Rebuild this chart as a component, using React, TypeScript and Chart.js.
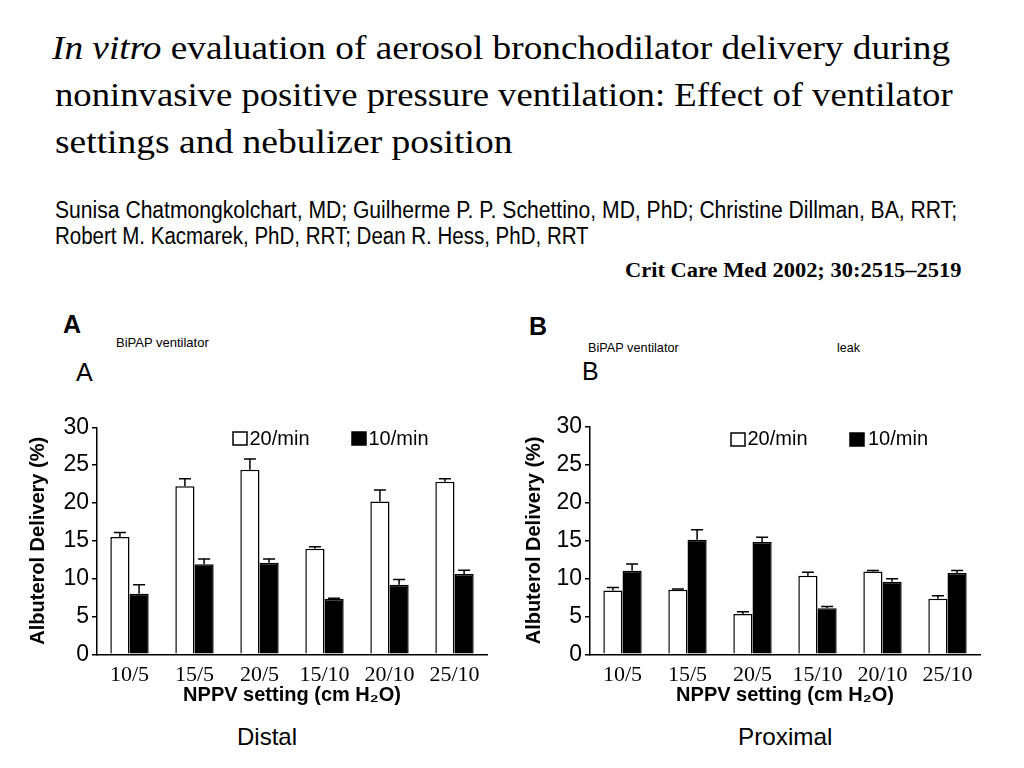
import React, { useEffect, useLayoutEffect, useRef } from "react";
import { Chart, registerables } from "chart.js";

Chart.register(...registerables);
Chart.defaults.font.family = "'Liberation Sans', Arial, sans-serif";

// ---- data ----
const categories = ["10/5", "15/5", "20/5", "15/10", "20/10", "25/10"];
const seriesLabels = ["20/min", "10/min"];
const yTicks = [0, 5, 10, 15, 20, 25, 30];

// Panel A (Distal)
const distal20 = [15.5, 22.2, 24.4, 13.95, 20.2, 22.8];
const distal20Err = [0.6, 1.0, 1.4, 0.25, 1.5, 0.4];
const distal10 = [8.0, 11.9, 12.1, 7.3, 9.2, 10.6];
const distal10Err = [1.2, 0.7, 0.5, 0.1, 0.7, 0.5];

// Panel B (Proximal)
const proximal20 = [8.4, 8.5, 5.3, 10.35, 10.9, 7.3];
const proximal20Err = [0.4, 0.1, 0.3, 0.45, 0.15, 0.4];
const proximal10 = [11.0, 15.1, 14.8, 6.05, 9.55, 10.7];
const proximal10Err = [0.9, 1.3, 0.6, 0.25, 0.4, 0.35];

const SERIF = "'Liberation Serif', 'Times New Roman', serif";
const SANS = "'Liberation Sans', Arial, sans-serif";

// ---- plugins ----
const errorBarPlugin = {
  id: "errorBars",
  afterDatasetsDraw(chart: any) {
    const { ctx } = chart;
    const yScale = chart.scales.y;
    chart.data.datasets.forEach((ds: any, di: number) => {
      const meta = chart.getDatasetMeta(di);
      if (!ds.errors) return;
      meta.data.forEach((bar: any, i: number) => {
        const v = ds.data[i];
        const e = ds.errors[i];
        const yTop = yScale.getPixelForValue(v + e);
        const yBar = bar.y;
        ctx.save();
        ctx.strokeStyle = "#000";
        ctx.lineWidth = 1.5;
        ctx.beginPath();
        ctx.moveTo(bar.x, yBar);
        ctx.lineTo(bar.x, yTop);
        ctx.moveTo(bar.x - 6, yTop);
        ctx.lineTo(bar.x + 6, yTop);
        ctx.stroke();
        ctx.restore();
      });
    });
  },
};

const boxLegendPlugin = {
  id: "boxLegend",
  afterDraw(chart: any, _args: any, opts: any) {
    const { ctx } = chart;
    ctx.save();
    ctx.font = `20px ${SANS}`;
    ctx.textBaseline = "alphabetic";
    ctx.textAlign = "left";
    chart.data.datasets.forEach((ds: any, i: number) => {
      const it = opts.items[i];
      ctx.fillStyle = ds.backgroundColor;
      ctx.fillRect(it.x, opts.y, opts.w, opts.h);
      ctx.strokeStyle = "#000";
      ctx.lineWidth = 1.5;
      ctx.strokeRect(it.x, opts.y, opts.w, opts.h);
      ctx.fillStyle = "#000";
      ctx.fillText(ds.label, it.textX, opts.baseline);
    });
    ctx.restore();
  },
};

type Area = { left: number; top: number; right: number; bottom: number };

function BarPanel(props: {
  left: number;
  top: number;
  width: number;
  height: number;
  area: Area;
  v20: number[];
  e20: number[];
  v10: number[];
  e10: number[];
  yTitlePad: number;
  legend: any;
}) {
  const ref = useRef<HTMLCanvasElement>(null);
  useEffect(() => {
    const { width, height, area } = props;
    const chart = new Chart(ref.current as HTMLCanvasElement, {
      type: "bar",
      data: {
        labels: categories,
        datasets: [
          {
            label: seriesLabels[0],
            data: props.v20,
            errors: props.e20,
            backgroundColor: "#ffffff",
            borderColor: "#000000",
            borderWidth: 1.5,
          } as any,
          {
            label: seriesLabels[1],
            data: props.v10,
            errors: props.e10,
            backgroundColor: "#000000",
            borderColor: "#000000",
            borderWidth: 1.5,
          } as any,
        ],
      },
      options: {
        animation: false,
        responsive: false,
        maintainAspectRatio: false,
        layout: {
          padding: { left: 0, top: area.top, right: width - area.right, bottom: 0 },
        },
        datasets: { bar: { categoryPercentage: 0.59, barPercentage: 1.0 } },
        scales: {
          x: {
            grid: { display: false },
            border: { display: true, color: "#000", width: 1.5 },
            ticks: {
              color: "#000",
              font: { family: SERIF, size: 22 },
              padding: 0,
              maxRotation: 0,
              autoSkip: false,
            },
            title: {
              display: true,
              text: "NPPV setting (cm H\u2082O)",
              color: "#000",
              font: { family: SANS, size: 20, weight: "bold" },
              padding: { top: 0, bottom: 13 },
            },
            afterFit: (s: any) => {
              s.height = height - area.bottom;
            },
          },
          y: {
            min: 0,
            max: 30,
            afterBuildTicks: (s: any) => {
              s.ticks = yTicks.map((v) => ({ value: v }));
            },
            ticks: {
              color: "#000",
              font: { family: SANS, size: 23 },
              padding: 3,
            },
            grid: {
              drawOnChartArea: false,
              drawTicks: true,
              tickLength: 5,
              color: "#000",
              lineWidth: 1.5,
            },
            border: { display: true, color: "#000", width: 1.5 },
            title: {
              display: true,
              text: "Albuterol Delivery (%)",
              color: "#000",
              font: { family: SANS, size: 20, weight: "bold" },
              padding: { top: props.yTitlePad, bottom: 0 },
            },
            afterFit: (s: any) => {
              s.width = area.left;
            },
          },
        },
        plugins: {
          legend: { display: false },
          tooltip: { enabled: false },
          boxLegend: props.legend,
        } as any,
      },
      plugins: [errorBarPlugin, boxLegendPlugin],
    });
    return () => chart.destroy();
  }, []);
  return (
    <canvas
      ref={ref}
      width={props.width}
      height={props.height}
      style={{ position: "absolute", left: props.left, top: props.top, width: props.width, height: props.height }}
    />
  );
}

function FitText(props: {
  x: number;
  baseline: number;
  size: number;
  family: string;
  weight?: string;
  width?: number;
  children: React.ReactNode;
}) {
  const ref = useRef<HTMLDivElement>(null);
  const k = props.family === SERIF ? 0.8375 : 0.8465;
  useLayoutEffect(() => {
    const el = ref.current;
    if (!el || !props.width) return;
    const w = el.offsetWidth;
    if (w > 0) el.style.transform = `scaleX(${props.width / w})`;
  });
  return (
    <div
      ref={ref}
      style={{
        position: "absolute",
        left: props.x,
        top: props.baseline - k * props.size,
        fontSize: props.size,
        lineHeight: `${props.size}px`,
        fontFamily: props.family,
        fontWeight: (props.weight as any) || "normal",
        whiteSpace: "nowrap",
        transformOrigin: "0 0",
        color: "#000",
      }}
    >
      {props.children}
    </div>
  );
}

export default function App() {
  return (
    <div
      style={{
        position: "fixed",
        left: 0,
        top: 0,
        width: 1024,
        height: 768,
        background: "#fff",
        overflow: "hidden",
      }}
    >
      <FitText x={52} baseline={59.5} size={33} family={SERIF} width={898}>
        <i>In vitro</i> evaluation of aerosol bronchodilator delivery during
      </FitText>
      <FitText x={55} baseline={106.5} size={33} family={SERIF} width={898}>
        noninvasive positive pressure ventilation: Effect of ventilator
      </FitText>
      <FitText x={55} baseline={153.5} size={33} family={SERIF} width={457}>
        settings and nebulizer position
      </FitText>

      <FitText x={55} baseline={218} size={23} family={SANS} width={902}>
        Sunisa Chatmongkolchart, MD; Guilherme P. P. Schettino, MD, PhD; Christine Dillman, BA, RRT;
      </FitText>
      <FitText x={55} baseline={244.5} size={23} family={SANS} width={534}>
        Robert M. Kacmarek, PhD, RRT; Dean R. Hess, PhD, RRT
      </FitText>

      <FitText x={625} baseline={277} size={20} family={SERIF} weight="bold" width={337}>
        Crit Care Med 2002; 30:2515–2519
      </FitText>

      <FitText x={63} baseline={333} size={25} family={SANS} weight="bold">
        A
      </FitText>
      <FitText x={116} baseline={347} size={13} family={SANS} width={93}>
        BiPAP ventilator
      </FitText>
      <FitText x={76} baseline={381} size={25} family={SANS}>
        A
      </FitText>

      <FitText x={529} baseline={335} size={25} family={SANS} weight="bold">
        B
      </FitText>
      <FitText x={588} baseline={352} size={13} family={SANS} width={91}>
        BiPAP ventilator
      </FitText>
      <FitText x={837} baseline={352} size={13} family={SANS} width={23}>
        leak
      </FitText>
      <FitText x={582} baseline={380} size={25} family={SANS}>
        B
      </FitText>

      <BarPanel
        left={0}
        top={400}
        width={512}
        height={320}
        area={{ left: 97, top: 27.3, right: 487, bottom: 254.3 }}
        v20={distal20}
        e20={distal20Err}
        v10={distal10}
        e10={distal10Err}
        yTitlePad={26}
        legend={{
          y: 32,
          w: 14,
          h: 13,
          baseline: 45,
          items: [
            { x: 233, textX: 249.5 },
            { x: 352, textX: 368.5 },
          ],
        }}
      />
      <BarPanel
        left={512}
        top={400}
        width={512}
        height={320}
        area={{ left: 78, top: 26.5, right: 468, bottom: 254.3 }}
        v20={proximal20}
        e20={proximal20Err}
        v10={proximal10}
        e10={proximal10Err}
        yTitlePad={10}
        legend={{
          y: 33,
          w: 14,
          h: 13,
          baseline: 45,
          items: [
            { x: 219, textX: 235.5 },
            { x: 338, textX: 356 },
          ],
        }}
      />

      <FitText x={237} baseline={745} size={24} family={SANS} width={60}>
        Distal
      </FitText>
      <FitText x={738} baseline={745} size={24} family={SANS} width={94}>
        Proximal
      </FitText>
    </div>
  );
}
